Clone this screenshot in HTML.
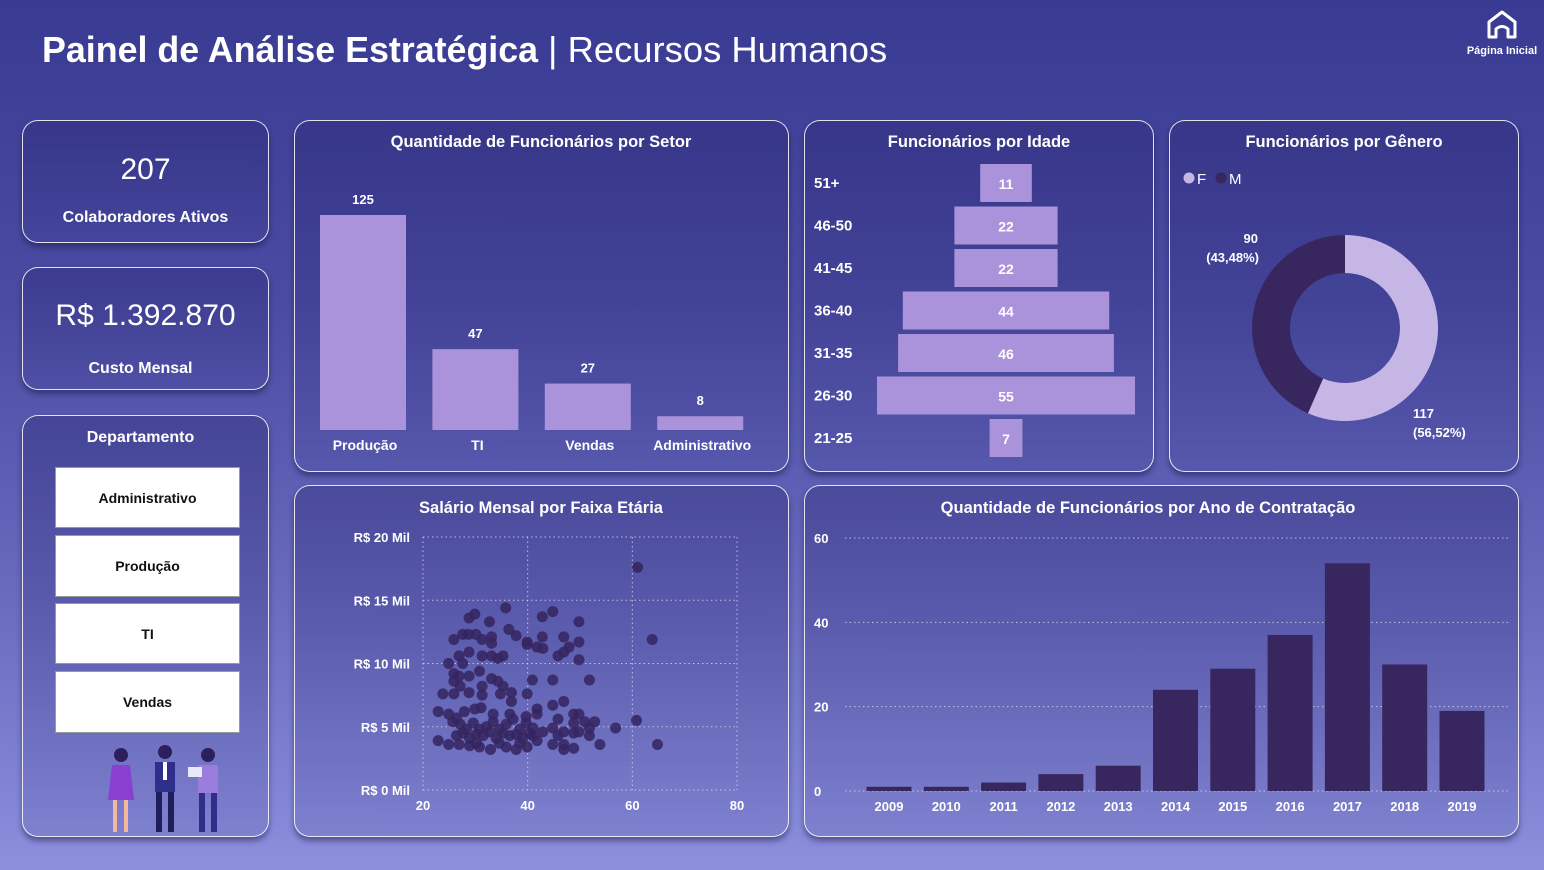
<!DOCTYPE html>
<html><head><meta charset="utf-8">
<style>
body{margin:0;width:1544px;height:870px;overflow:hidden;font-family:"Liberation Sans",sans-serif;}
#bg{position:absolute;left:0;top:0;width:1544px;height:870px;background:linear-gradient(180deg,#393a92 0%,#4a4ca3 35%,#6a6cc0 70%,#8b8fdc 100%);}
.card{position:absolute;box-sizing:border-box;border:1.6px solid rgba(255,255,255,0.85);border-radius:16px;background:linear-gradient(180deg,rgba(40,35,110,0.35),rgba(40,35,110,0.08));box-shadow:0 4px 6px rgba(20,15,60,0.45);}
.t{position:absolute;color:#fff;font-weight:bold;text-align:center;}
.btn{position:absolute;left:55px;width:185px;background:#fff;border:1px solid #999;box-sizing:border-box;color:#111;font-weight:bold;font-size:14px;display:flex;align-items:center;justify-content:center;}
svg{position:absolute;left:0;top:0;}
svg text{font-family:"Liberation Sans",sans-serif;font-weight:bold;fill:#fff;}
</style></head><body>
<div id="bg"></div>
<div class="t" style="left:42px;top:29px;font-size:35.8px;text-align:left;white-space:nowrap;">Painel de Análise Estratégica <span style="font-weight:normal;font-size:36.4px">| Recursos Humanos</span></div>
<div style="position:absolute;left:1460px;top:4px;width:84px;height:56px;">
<svg width="84" height="56"><path d="M29 33 V18 L42 8 L55 18 V33 H48 V25 Q42 20 36 25 V33 Z" fill="none" stroke="#fff" stroke-width="3" stroke-linejoin="round"/><text x="42" y="50" text-anchor="middle" style="font-size:11px">Página Inicial</text></svg></div>

<div class="card" style="left:22px;top:120px;width:247px;height:123px;"></div>
<div class="t" style="left:22px;top:153px;width:247px;font-size:30px;font-weight:normal;">207</div>
<div class="t" style="left:22px;top:209px;width:247px;font-size:16px;">Colaboradores Ativos</div>
<div class="card" style="left:22px;top:267px;width:247px;height:123px;"></div>
<div class="t" style="left:22px;top:299px;width:247px;font-size:30px;font-weight:normal;">R$ 1.392.870</div>
<div class="t" style="left:17px;top:360px;width:247px;font-size:16px;">Custo Mensal</div>
<div class="card" style="left:22px;top:415px;width:247px;height:422px;"></div>
<div class="t" style="left:17px;top:429px;width:247px;font-size:16px;">Departamento</div>
<div class="btn" style="top:467px;height:61px;">Administrativo</div>
<div class="btn" style="top:535px;height:62px;">Produção</div>
<div class="btn" style="top:603px;height:61px;">TI</div>
<div class="btn" style="top:671px;height:62px;">Vendas</div>

<div class="card" style="left:294px;top:120px;width:495px;height:352px;"></div>
<div class="card" style="left:804px;top:120px;width:350px;height:352px;"></div>
<div class="card" style="left:1169px;top:120px;width:350px;height:352px;"></div>
<div class="card" style="left:294px;top:485px;width:495px;height:352px;"></div>
<div class="card" style="left:804px;top:485px;width:715px;height:352px;"></div>

<svg id="s" width="1544" height="870">
<g>
<circle cx="121" cy="755" r="7" fill="#2d1f5e"/><path d="M112 765 h18 l4 35 h-26 z" fill="#8a3fd0"/><rect x="113" y="800" width="4" height="32" fill="#f3b8a0"/><rect x="124" y="800" width="4" height="32" fill="#f3b8a0"/>
<circle cx="165" cy="752" r="7" fill="#2d1f5e"/><path d="M155 762 h20 v30 h-20 z" fill="#2d2f8a"/><rect x="156" y="792" width="6" height="40" fill="#1e1f5a"/><rect x="168" y="792" width="6" height="40" fill="#1e1f5a"/><rect x="163" y="762" width="4" height="18" fill="#fff"/>
<circle cx="208" cy="755" r="7" fill="#2d1f5e"/><path d="M198 765 h20 v28 h-20 z" fill="#9a7cdc"/><rect x="199" y="793" width="6" height="39" fill="#2d2f8a"/><rect x="211" y="793" width="6" height="39" fill="#2d2f8a"/><rect x="188" y="767" width="14" height="10" fill="#e8e8f8"/>
</g>
</svg>
<script>
// Sector chart
const sectors=["Produção","TI","Vendas","Administrativo"];
const sectorCounts=[125,47,27,8];
// Age chart
const ageBands=["51+","46-50","41-45","36-40","31-35","26-30","21-25"];
const ageCounts=[11,22,22,44,46,55,7];
// Gender
const genders=["F","M"];
const genderCounts=[117,90];
// Hiring years
const years=["2009","2010","2011","2012","2013","2014","2015","2016","2017","2018","2019"];
const hires=[1,1,2,4,6,24,29,37,54,30,19];
const hireTicks=[0,20,40,60];
// Scatter
const ages=[61,63.8,60.8,64.8,56.8,53.8,51.8,49.8,49.8,49.8,44.8,42.8,35.8,29.9,28.8,32.7,25.9,27.6,28.7,30.1,31.3,33.1,33.1,36.4,37.8,39.9,39.9,41.8,42.9,42.8,46.9,47.9,46.9,45.8,28.8,26.9,24.9,27.6,31.3,33.1,34.3,35.3,30.8,25.9,28.8,26.9,33.1,34.3,40.9,44.8,25.9,27.1,31.3,35.3,23.8,25.9,28.8,31.3,34.8,36.9,39.9,36.9,44.8,46.9,41.8,22.9,24.9,27.9,29.9,31.1,41.8,48.8,49.8,45.8,50.9,52.8,48.8,44.8,51.8,49.8,48.8,51.8,46.9,45.8,42.9,41.8,44.8,46.9,48.8,46.9,39.9,37.8,35.9,32.9,30.8,28.9,26.9,24.9,22.9,25.7,27.1,28.3,29.6,30.8,32.1,33.4,34.6,35.9,37.2,38.5,39.7,41.0,26.4,28.9,31.5,34.0,36.6,39.1,41.0,27.6,30.2,32.7,35.3,37.8,33.4,36.6,39.7,38.5,34.6,30.2,26.4,40.4];
const salaries=[17.6,11.9,5.5,3.6,4.9,3.6,8.7,13.3,11.7,10.3,14.1,13.7,14.4,13.9,13.6,13.3,11.9,12.3,12.3,12.3,11.9,12.1,11.6,12.7,12.2,11.7,11.5,11.3,11.2,12.1,12.1,11.3,10.9,10.6,10.9,10.6,10.0,10.0,10.6,10.6,10.4,10.6,9.4,9.2,9.0,9.0,8.8,8.6,8.7,8.7,8.6,8.2,8.2,8.2,7.6,7.6,7.7,7.5,7.6,7.7,7.6,7.0,6.7,7.0,6.4,6.2,6.0,6.2,6.4,6.5,6.0,6.0,6.0,5.6,5.4,5.4,5.3,4.9,4.9,4.6,4.5,4.3,4.6,4.3,4.6,3.9,3.6,3.6,3.3,3.2,3.4,3.2,3.4,3.2,3.4,3.5,3.6,3.6,3.9,5.4,5.2,4.8,5.3,4.8,5.0,5.4,4.8,5.2,5.6,4.8,5.3,4.9,4.3,4.1,4.3,4.1,4.3,4.1,4.3,4.5,4.4,4.6,4.5,4.4,6.0,6.0,5.8,3.7,3.7,3.7,5.7,4.5];
const ageTicks=[20,40,60,80];
const salTicks=[0,5,10,15,20];

const NS="http://www.w3.org/2000/svg";
const svg=document.getElementById('s');
function mk(tag,attrs,txt){const e=document.createElementNS(NS,tag);for(const k in attrs)e.setAttribute(k,attrs[k]);if(txt!==undefined)e.textContent=txt;svg.appendChild(e);return e;}

// titles
[["Quantidade de Funcionários por Setor",541,147,"sector-chart-title"],["Funcionários por Idade",979,147,"age-chart-title"],["Funcionários por Gênero",1344,147,"gender-chart-title"],["Salário Mensal por Faixa Etária",541,513,"salary-scatter-title"],["Quantidade de Funcionários por Ano de Contratação",1148,513,"hire-year-title"]].forEach(t=>{
 const e=mk('text',{x:t[1],y:t[2],'text-anchor':'middle','font-size':'16.5'},t[0]);
 
 
});

// sector bars
const sBase=430, sScale=215/125;
sectors.forEach((s,i)=>{
 const cx=363+i*112.4, h=sectorCounts[i]*sScale;
 const r=mk('rect',{x:cx-43,y:sBase-h,width:86,height:h,fill:'#ab93db'});
 
 
 const v=mk('text',{x:cx,y:sBase-h-11,'text-anchor':'middle','font-size':'13'},sectorCounts[i]);
 
 
 const l=mk('text',{x:cx+2,y:450,'text-anchor':'middle','font-size':'14'},s);
 
 
});

// age pyramid
const aScale=258/55;
ageBands.forEach((b,i)=>{
 const cy=183+i*42.5, w=ageCounts[i]*aScale;
 const r=mk('rect',{x:1006-w/2,y:cy-19,width:w,height:38,fill:'#ab93db'});
 
 
 const v=mk('text',{x:1006,y:cy+6,'text-anchor':'middle','font-size':'14'},ageCounts[i]);
 
 
 const l=mk('text',{x:814,y:cy+5,'font-size':'15'},b);
 
 
});

// donut
const total=genderCounts.reduce((a,b)=>a+b,0);
const cx=1345,cy=328,R=93,r0=55,cols=['#c6b6e6','#38265f'];
const labelPos=[[1413,418,'start'],[1259,243,'end']];
let ang=0;
genderCounts.forEach((c,i)=>{
 const a0=ang, a1=ang+c/total*2*Math.PI; ang=a1;
 const p=(a,rad)=>[cx+rad*Math.sin(a),cy-rad*Math.cos(a)];
 const [x0,y0]=p(a0,R),[x1,y1]=p(a1,R),[x2,y2]=p(a1,r0),[x3,y3]=p(a0,r0);
 const lg=(a1-a0)>Math.PI?1:0;
 const e=mk('path',{d:`M${x0} ${y0} A${R} ${R} 0 ${lg} 1 ${x1} ${y1} L${x2} ${y2} A${r0} ${r0} 0 ${lg} 0 ${x3} ${y3} Z`,fill:cols[i]});
 
 
 const pct=(c/total*100).toFixed(2).replace('.',',');
 const lp=labelPos[i];
 const t1=mk('text',{x:lp[2]==='end'?lp[0]-1:lp[0],y:lp[1],'text-anchor':lp[2],'font-size':'13'},c);
 
 
 const t2=mk('text',{x:lp[0],y:lp[1]+19,'text-anchor':lp[2],'font-size':'13'},'('+pct+'%)');
 
 
});
genders.forEach((g,i)=>{
 const c=mk('circle',{cx:1189+i*32,cy:178,r:5.5,fill:cols[i]});
 
 
 const t=mk('text',{x:1197+i*32,y:184,'font-size':'15'},g);
 t.style.fontWeight='normal';
 
 
});

// scatter axes
const sx=a=>423+(a-20)*(314/60), sy=v=>790-v*(253/20);
ageTicks.forEach(a=>{
 const l=mk('line',{x1:sx(a),x2:sx(a),y1:537,y2:790,stroke:'#d8d8ee','stroke-width':1,'stroke-dasharray':'1.5 3','stroke-opacity':0.8});
 
 
 const t=mk('text',{x:sx(a),y:810,'text-anchor':'middle','font-size':'13'},a);
 
 
});
salTicks.forEach(v=>{
 const l=mk('line',{x1:423,x2:737,y1:sy(v),y2:sy(v),stroke:'#d8d8ee','stroke-width':1,'stroke-dasharray':'1.5 3','stroke-opacity':0.8});
 
 
 const t=mk('text',{x:410,y:sy(v)+5,'text-anchor':'end','font-size':'13'},'R$ '+v+' Mil');
 
 
});
ages.forEach((a,i)=>{
 const c=mk('circle',{cx:sx(a),cy:sy(salaries[i]),r:5.5,fill:'#35245f','fill-opacity':0.85});
 
 
});

// hire-year bars
const hy=v=>791-v*(253/60);
hireTicks.forEach(v=>{
 const l=mk('line',{x1:845,x2:1510,y1:hy(v),y2:hy(v),stroke:'#d8d8ee','stroke-width':1,'stroke-dasharray':'1.5 3','stroke-opacity':0.8});
 
 
 const t=mk('text',{x:814,y:hy(v)+5,'font-size':'13'},v);
 
 
});
years.forEach((y,i)=>{
 const cxx=889+i*57.3, h=hires[i]*(253/60);
 const r=mk('rect',{x:cxx-22.5,y:791-h,width:45,height:h,fill:'#38265f'});
 
 
 const t=mk('text',{x:cxx,y:811,'text-anchor':'middle','font-size':'13'},y);
 
 
});
</script>
</body></html>
